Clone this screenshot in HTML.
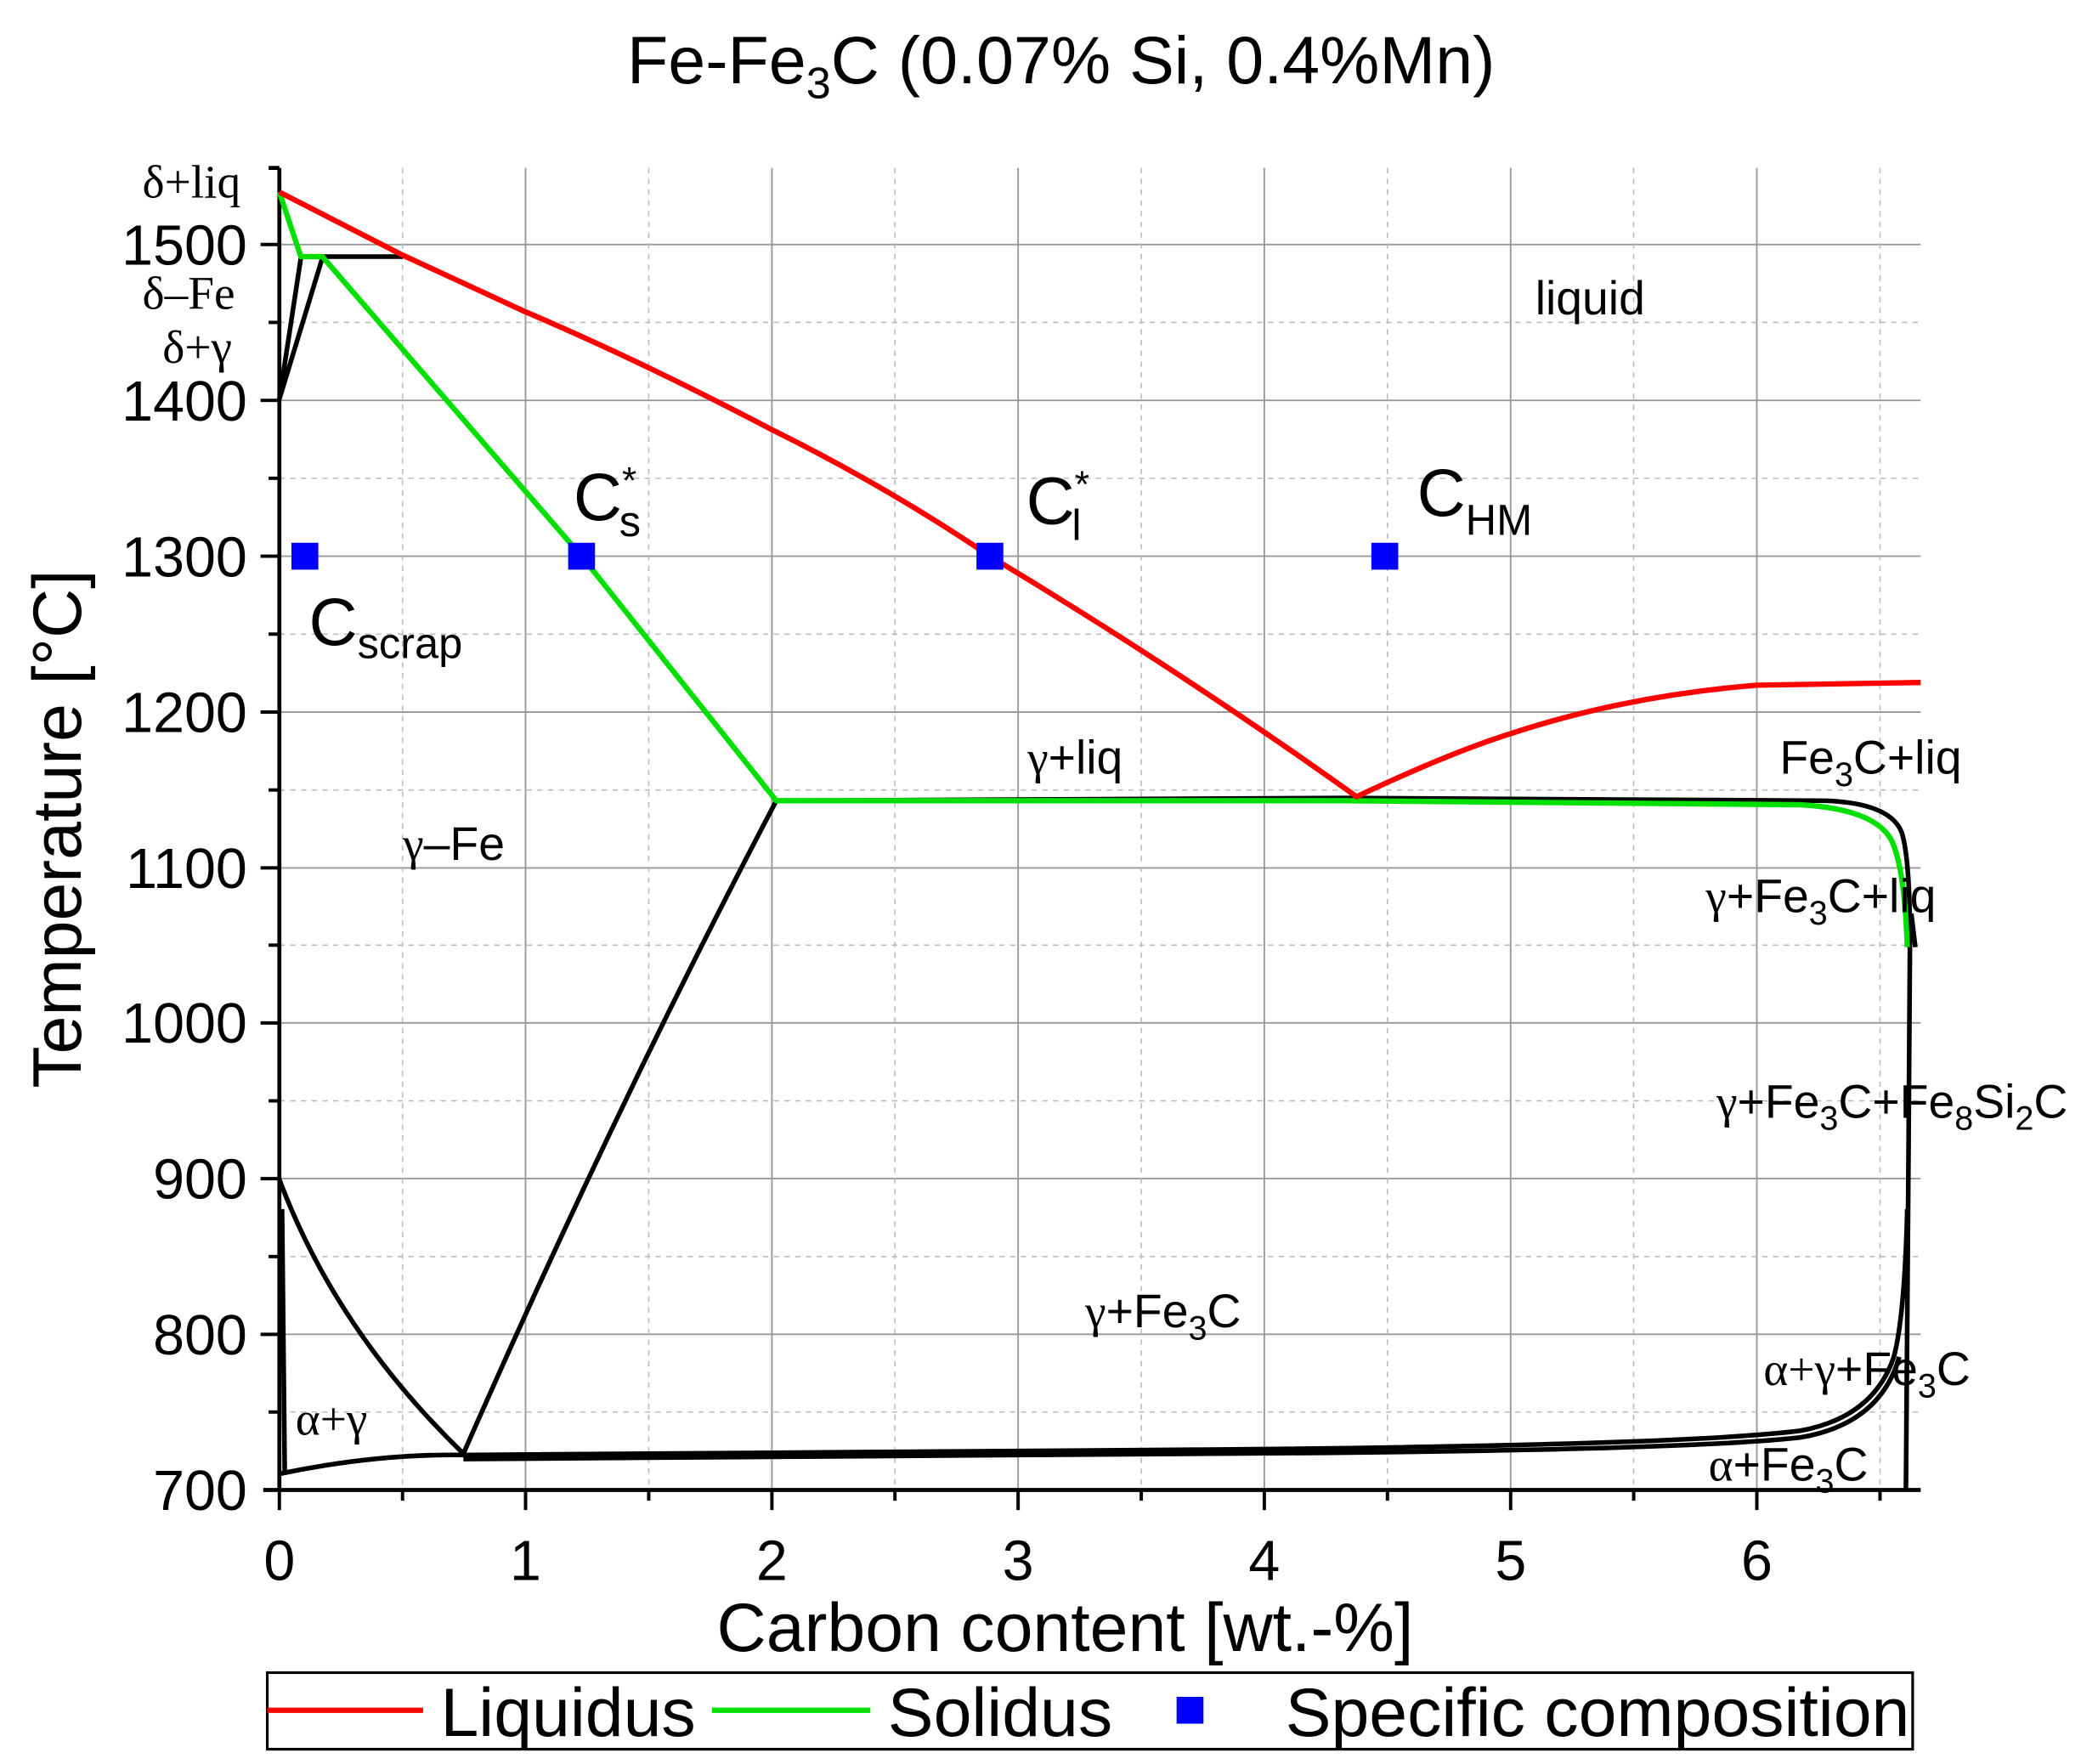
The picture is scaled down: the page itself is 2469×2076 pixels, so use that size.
<!DOCTYPE html>
<html><head><meta charset="utf-8"><style>
html,body{margin:0;padding:0;background:#fff;}
svg{display:block;}
text{font-family:"Liberation Sans",sans-serif;fill:#000;}
.g{font-family:"Liberation Serif",serif;}
</style></head><body>
<svg width="2469" height="2076" viewBox="0 0 1562 1313" preserveAspectRatio="none" xmlns="http://www.w3.org/2000/svg">
<rect width="1562" height="1313" fill="#fff"/>
<!-- grid -->
<g stroke="#999" stroke-width="1.2">
<line x1="391.3" y1="125" x2="391.3" y2="1109"/><line x1="574.7" y1="125" x2="574.7" y2="1109"/>
<line x1="758" y1="125" x2="758" y2="1109"/><line x1="941.3" y1="125" x2="941.3" y2="1109"/>
<line x1="1124.7" y1="125" x2="1124.7" y2="1109"/><line x1="1308" y1="125" x2="1308" y2="1109"/>
<line x1="208" y1="182" x2="1430" y2="182"/><line x1="208" y1="298" x2="1430" y2="298"/>
<line x1="208" y1="414" x2="1430" y2="414"/><line x1="208" y1="530" x2="1430" y2="530"/>
<line x1="208" y1="646" x2="1430" y2="646"/><line x1="208" y1="761.4" x2="1430" y2="761.4"/>
<line x1="208" y1="877.3" x2="1430" y2="877.3"/><line x1="208" y1="993.2" x2="1430" y2="993.2"/>
</g>
<g stroke="#bbb" stroke-width="1" stroke-dasharray="4 4">
<line x1="299.7" y1="125" x2="299.7" y2="1109"/><line x1="483" y1="125" x2="483" y2="1109"/>
<line x1="666.3" y1="125" x2="666.3" y2="1109"/><line x1="849.7" y1="125" x2="849.7" y2="1109"/>
<line x1="1033" y1="125" x2="1033" y2="1109"/><line x1="1216.3" y1="125" x2="1216.3" y2="1109"/>
<line x1="1399.7" y1="125" x2="1399.7" y2="1109"/>
<line x1="208" y1="240" x2="1430" y2="240"/><line x1="208" y1="356" x2="1430" y2="356"/>
<line x1="208" y1="472" x2="1430" y2="472"/><line x1="208" y1="588" x2="1430" y2="588"/>
<line x1="208" y1="703.5" x2="1430" y2="703.5"/><line x1="208" y1="819.4" x2="1430" y2="819.4"/>
<line x1="208" y1="935.3" x2="1430" y2="935.3"/><line x1="208" y1="1051" x2="1430" y2="1051"/>
</g>
<!-- axes -->
<g stroke="#000" stroke-width="3" fill="none">
<line x1="208" y1="125" x2="208" y2="1110"/>
<line x1="196" y1="1109" x2="1430" y2="1109"/>
<line x1="200" y1="125" x2="208" y2="125"/>
</g>
<g stroke="#000" stroke-width="2.5">
<line x1="194" y1="182" x2="208" y2="182"/><line x1="194" y1="298" x2="208" y2="298"/><line x1="194" y1="414" x2="208" y2="414"/><line x1="194" y1="530" x2="208" y2="530"/><line x1="194" y1="646" x2="208" y2="646"/><line x1="194" y1="761.4" x2="208" y2="761.4"/><line x1="194" y1="877.3" x2="208" y2="877.3"/><line x1="194" y1="993.2" x2="208" y2="993.2"/>
<line x1="200" y1="240" x2="208" y2="240"/><line x1="200" y1="356" x2="208" y2="356"/><line x1="200" y1="472" x2="208" y2="472"/><line x1="200" y1="588" x2="208" y2="588"/><line x1="200" y1="703.5" x2="208" y2="703.5"/><line x1="200" y1="819.4" x2="208" y2="819.4"/><line x1="200" y1="935.3" x2="208" y2="935.3"/><line x1="200" y1="1051" x2="208" y2="1051"/>
<line x1="208" y1="1109" x2="208" y2="1124"/><line x1="391.3" y1="1109" x2="391.3" y2="1124"/><line x1="574.7" y1="1109" x2="574.7" y2="1124"/><line x1="758" y1="1109" x2="758" y2="1124"/><line x1="941.3" y1="1109" x2="941.3" y2="1124"/><line x1="1124.7" y1="1109" x2="1124.7" y2="1124"/><line x1="1308" y1="1109" x2="1308" y2="1124"/>
<line x1="299.7" y1="1109" x2="299.7" y2="1117"/><line x1="483" y1="1109" x2="483" y2="1117"/><line x1="666.3" y1="1109" x2="666.3" y2="1117"/><line x1="849.7" y1="1109" x2="849.7" y2="1117"/><line x1="1033" y1="1109" x2="1033" y2="1117"/><line x1="1216.3" y1="1109" x2="1216.3" y2="1117"/><line x1="1399.7" y1="1109" x2="1399.7" y2="1117"/>
</g>
<!-- tick labels -->
<g font-size="42" text-anchor="end">
<text x="184" y="197">1500</text><text x="184" y="313">1400</text><text x="184" y="429">1300</text><text x="184" y="545">1200</text><text x="184" y="661">1100</text><text x="184" y="776">1000</text><text x="184" y="892">900</text><text x="184" y="1008">800</text><text x="184" y="1124">700</text>
</g>
<g font-size="42" text-anchor="middle">
<text x="208" y="1176">0</text><text x="391.3" y="1176">1</text><text x="574.7" y="1176">2</text><text x="758" y="1176">3</text><text x="941.3" y="1176">4</text><text x="1124.7" y="1176">5</text><text x="1308" y="1176">6</text>
</g>
<text x="790" y="62" font-size="50" text-anchor="middle">Fe-Fe<tspan font-size="33" dy="11">3</tspan><tspan dy="-11">C (0.07% Si, 0.4%Mn)</tspan></text>
<text x="793" y="1229" font-size="51" text-anchor="middle">Carbon content [wt.-%]</text>
<text transform="translate(60,617) rotate(-90)" font-size="51" text-anchor="middle">Temperature [°C]</text>
<!-- black phase lines -->
<g stroke="#000" stroke-width="3.5" fill="none" stroke-linejoin="round">
<path d="M224,191 L300,191"/>
<path d="M208,297 L224,192"/><path d="M208,297 L240,192"/>
<path d="M578,596 Q460,820 345,1082"/>
<path d="M208,878 Q250,990 345,1082"/>
<path d="M210,900 L212,1097"/>
<path d="M208,1097 Q280,1082 345,1083 L900,1079 Q1250,1076 1340,1065 Q1395,1055 1410,1010 Q1418,980 1420,900"/>
<path d="M345,1086 L900,1082 Q1250,1080 1340,1070 Q1400,1060 1414,1010"/>
<path d="M578,596 L1000,594 L1360,596 Q1408,598 1416,620 Q1422,640 1422,700 L1421,850 L1419,1109"/>
<path d="M1423,680 L1426,705"/>
</g>
<!-- solidus -->
<path d="M208,143 L224,191 L240,191 L433,414 L578,596 L1000,596 L1340,599 Q1395,602 1408,625 Q1418,645 1420,705" stroke="#00e000" stroke-width="4" fill="none" stroke-linejoin="round"/>
<!-- liquidus -->
<path d="M208,143 L300,190 L391,232 Q480,270 575,320 Q660,362 737,414 Q880,500 1010,593 Q1080,560 1125,546 Q1210,518 1308,510 L1430,508" stroke="#f00" stroke-width="4" fill="none" stroke-linejoin="round"/>
<!-- markers -->
<g fill="#00f">
<rect x="217" y="404" width="20" height="20"/><rect x="423" y="404" width="20" height="20"/><rect x="727" y="404" width="20" height="20"/><rect x="1021" y="404" width="20" height="20"/>
</g>
<!-- big labels -->
<text x="230" y="480" font-size="50">C<tspan font-size="32" dy="10">scrap</tspan></text>
<text x="427" y="387" font-size="50">C<tspan font-size="28" dy="-20">*</tspan><tspan font-size="32" dx="-13" dy="32">s</tspan></text>
<text x="764" y="390" font-size="50">C<tspan font-size="28" dy="-20">*</tspan><tspan font-size="32" dx="-13" dy="32">l</tspan></text>
<text x="1055" y="384" font-size="50">C<tspan font-size="32" dy="14">HM</tspan></text>
<!-- phase labels -->
<g font-size="35">
<text x="1143" y="234">liquid</text>
<text x="765" y="576"><tspan class="g">γ</tspan>+liq</text>
<text x="1325" y="576">Fe<tspan font-size="25" dy="9">3</tspan><tspan dy="-9">C+liq</tspan></text>
<text x="300" y="640"><tspan class="g">γ</tspan>–Fe</text>
<text x="1270" y="679"><tspan class="g">γ</tspan>+Fe<tspan font-size="25" dy="9">3</tspan><tspan dy="-9">C+liq</tspan></text>
<text x="1278" y="832"><tspan class="g">γ</tspan>+Fe<tspan font-size="25" dy="9">3</tspan><tspan dy="-9">C+Fe</tspan><tspan font-size="25" dy="9">8</tspan><tspan dy="-9">Si</tspan><tspan font-size="25" dy="9">2</tspan><tspan dy="-9">C</tspan></text>
<text x="808" y="988"><tspan class="g">γ</tspan>+Fe<tspan font-size="25" dy="9">3</tspan><tspan dy="-9">C</tspan></text>
<text x="1313" y="1031"><tspan class="g">α+γ</tspan>+Fe<tspan font-size="25" dy="9">3</tspan><tspan dy="-9">C</tspan></text>
<text x="1272" y="1102"><tspan class="g">α</tspan>+Fe<tspan font-size="25" dy="9">3</tspan><tspan dy="-9">C</tspan></text>
<text x="220" y="1068" class="g">α+γ</text>
<text x="106" y="147" class="g">δ+liq</text>
<text x="106" y="230" class="g">δ–Fe</text>
<text x="121" y="270" class="g">δ+γ</text>
</g>
<!-- legend -->
<rect x="199" y="1245" width="1225" height="57" fill="none" stroke="#000" stroke-width="2"/>
<line x1="199" y1="1273" x2="315" y2="1273" stroke="#f00" stroke-width="4"/>
<text x="328" y="1292" font-size="51">Liquidus</text>
<line x1="530" y1="1273" x2="648" y2="1273" stroke="#00e000" stroke-width="4"/>
<text x="661" y="1292" font-size="51">Solidus</text>
<rect x="876" y="1263" width="20" height="20" fill="#00f"/>
<text x="957" y="1292" font-size="51">Specific composition</text>
</svg>
</body></html>
